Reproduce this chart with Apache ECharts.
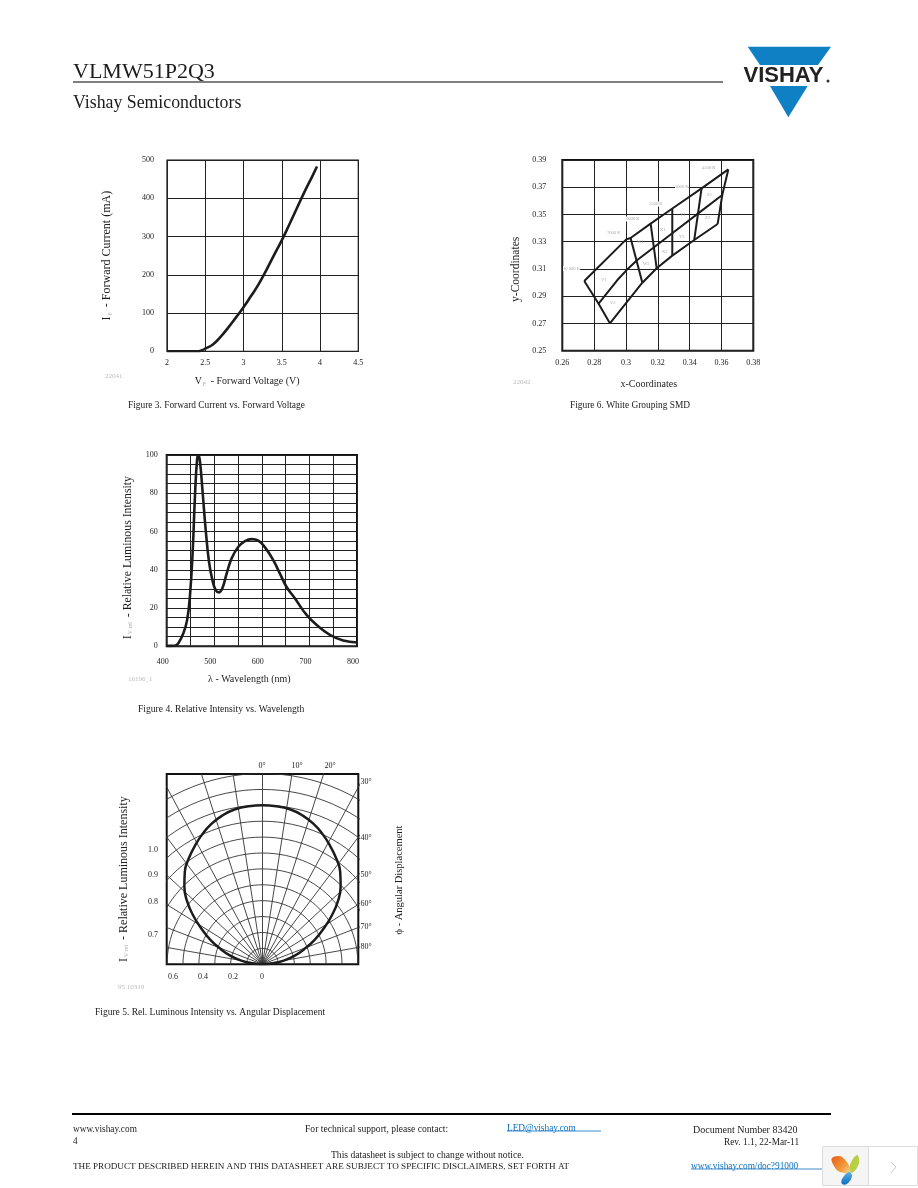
<!DOCTYPE html>
<html><head><meta charset="utf-8">
<style>html,body{margin:0;padding:0;background:#fff}#c{width:918px;height:1188px}</style>
<script src="https://cdn.jsdelivr.net/npm/echarts@6/dist/echarts.min.js"></script>
</head><body><div id="c"></div>
<script>
// Figure 3
const fig3Voltage = [2,2.2,2.4,2.46,2.5,2.6,2.7,2.8,2.9,3.0,3.1,3.2,3.3,3.4,3.5,3.6,3.7,3.8,3.9,3.96];
const fig3Current = [0,0,0,3,7,18,38,62,88,115,145,176,213,252,290,332,375,418,458,483];
const fig3XTicks = [2,2.5,3,3.5,4,4.5];
const fig3YTicks = [0,100,200,300,400,500];
// Figure 4
const fig4Wave = [400,417.5,424.5,435,443,449,454.6,459.5,464,467,470,475.7,482,489,496,503,510,517,526,536.6,550.6,564.6,578.6,592.6,606.6,624,638,652,669.7,694,719,743,771,800];
const fig4Intensity = [0.2,0.3,1.6,6.8,13.8,26.8,49.5,79,98,99.7,96.5,80,60.8,44,34.7,29.4,28.2,30.3,38,46,52,55,56,55.2,51.7,45,38,31,25,16.4,10.3,6,3,2];
// Figure 6
const fig6XTicks = [0.26,0.28,0.3,0.32,0.34,0.36,0.38];
const fig6YTicks = [0.25,0.27,0.29,0.31,0.33,0.35,0.37,0.39];
const fig6Upper = [[0.2738,0.3012],[0.3002,0.3317],[0.3029,0.3327],[0.3155,0.3433],[0.3287,0.354],[0.3475,0.3692],[0.3643,0.3831]];
const fig6Middle = [[0.2828,0.2845],[0.2946,0.3019],[0.3004,0.3092],[0.3071,0.3166],[0.3172,0.3256],[0.3291,0.3362],[0.3454,0.3508],[0.3605,0.3643]];
const fig6Lower = [[0.2899,0.2701],[0.3103,0.2999],[0.3193,0.3105],[0.3291,0.3198],[0.3429,0.3313],[0.3576,0.343]];
const fig6LeftEdge = [[0.2738,0.3012],[0.2828,0.2845],[0.2899,0.2701]];
const fig6RightEdge = [[0.3643,0.3831],[0.3605,0.3643],[0.3576,0.343]];
const fig6Dividers = [
  [[0.3029,0.3327],[0.3103,0.2999]],
  [[0.3155,0.3433],[0.3193,0.3105]],
  [[0.3291,0.354],[0.3291,0.3198]],
  [[0.3475,0.3692],[0.3429,0.3313]]
];
// Figure 5: relative intensity against angle
const fig5Angles = [-90,-85,-80,-75,-70,-65,-60,-55,-50,-45,-40,-35,-30,-25,-20,-15,-10,-5,0,5,10,15,20,25,30,35,40,45,50,55,60,65,70,75,80,85,90];
const fig5Rel = [0,0.07,0.14,0.21,0.28,0.36,0.44,0.53,0.62,0.695,0.76,0.81,0.855,0.9,0.94,0.97,0.99,0.998,1.0,0.998,0.99,0.97,0.94,0.9,0.855,0.81,0.76,0.695,0.62,0.53,0.44,0.36,0.28,0.21,0.14,0.07,0];
const fig5Radii = [0.1,0.2,0.3,0.4,0.5,0.6,0.7,0.8,0.9,1.0,1.1,1.2];
const fig5SpokeAngles = [-80,-69,-58,-47,-37,-28.4,-17.8,-8.8,0,8.8,17.8,28.4,37,47,58,69,80];

const serif = '"Liberation Serif", serif';
const ink = '#1c1c1c';
const G = {
  f3:{left:167,top:160,width:191.3,height:191.3},
  f6:{left:562.3,top:160,width:191,height:190.7},
  f4:{left:166.7,top:455,width:190.3,height:191.3},
  f5:{left:166.7,top:774,width:191.6,height:190.3}
};
const gridOpt = (g,bw)=>Object.assign({show:true,borderColor:'#111',borderWidth:bw,backgroundColor:'#fff',containLabel:false},g);
const splitL = {show:true,lineStyle:{color:'#222',width:1}};
const rich = {sub:{fontSize:6,fontFamily:serif,color:'#aaa',verticalAlign:'bottom',padding:[5,2,0,1]}};
const nameSt = (size,pad)=>({fontFamily:serif,fontSize:size,color:ink,padding:pad,rich:rich});
function baseAxis(extra){
  return Object.assign({type:'value',axisLine:{show:false},axisTick:{show:false},splitLine:splitL,nameLocation:'middle'},extra);
}
const lab = (margin,extra)=>Object.assign({fontFamily:serif,fontSize:8,color:ink,margin:margin},extra||{});

const xAxes = [
  baseAxis({gridIndex:0,min:2,max:4.5,interval:0.5,axisLabel:lab(8),name:'V{sub|F} - Forward Voltage (V)',nameGap:25,nameTextStyle:nameSt(10,[0,31,0,0])}),
  baseAxis({gridIndex:1,min:0.26,max:0.38,axisTick:{show:false,customValues:fig6XTicks},axisLabel:lab(8,{customValues:fig6XTicks,formatter:v=>String(v)}),name:'x-Coordinates',nameGap:29,nameTextStyle:nameSt(10,[0,18,0,0])}),
  baseAxis({gridIndex:2,min:400,max:800,interval:50,axisLabel:lab(12,{padding:[0,8,0,0],formatter:v=>v%100===0?String(v):''}),name:'λ - Wavelength (nm)',nameGap:28,nameTextStyle:nameSt(10,[0,25,0,0])}),
  baseAxis({gridIndex:3,min:-0.6025,max:0.6025,splitLine:{show:false},axisLabel:{show:false}})
];
const yAxes = [
  baseAxis({gridIndex:0,min:0,max:500,interval:100,axisLabel:lab(13),name:'I{sub|F} - Forward Current (mA)',nameGap:54,nameTextStyle:nameSt(12,[0,0,0,0])}),
  baseAxis({gridIndex:1,min:0.25,max:0.39,axisTick:{show:false,customValues:fig6YTicks},axisLabel:lab(16,{customValues:fig6YTicks,formatter:v=>String(v)}),name:'y-Coordinates',nameGap:40,nameTextStyle:nameSt(11.5,[0,28,0,0])}),
  baseAxis({gridIndex:2,min:0,max:100,interval:5,axisLabel:lab(9,{formatter:v=>v%20===0?String(v):''}),name:'I{sub|V rel} - Relative Luminous Intensity',nameGap:33,nameTextStyle:nameSt(11.8,[0,14,0,0])}),
  baseAxis({gridIndex:3,min:0,max:1.197,splitLine:{show:false},axisLabel:{show:false},name:'I{sub|V rel} - Relative Luminous Intensity',nameGap:37,nameTextStyle:nameSt(12,[0,20,0,0])})
];

const line = (idx,data,w,smooth,color)=>({type:'line',xAxisIndex:idx,yAxisIndex:idx,data:data,symbol:'none',smooth:smooth||false,silent:true,animation:false,lineStyle:{color:color||ink,width:w},z:5});
const zip = (a,b)=>a.map((v,i)=>[v,b[i]]);
const series = [];
// fig 3
series.push(line(0,zip(fig3Voltage,fig3Current),2.6,0.5));
// fig 6
[fig6Upper,fig6Middle,fig6Lower,fig6LeftEdge,fig6RightEdge].concat(fig6Dividers).forEach(s=>series.push(line(1,s,2)));
// fig 4
series.push(line(2,zip(fig4Wave,fig4Intensity),2.6,0.45));
// fig 5 polar guide lines, clipped by the grid
fig5Radii.forEach(r=>{
  const pts=[];
  for(let a=-90;a<=90;a+=3){const t=a*Math.PI/180;pts.push([r*Math.sin(t),r*Math.cos(t)]);}
  series.push(line(3,pts,0.9,false,'#333'));
});
fig5SpokeAngles.forEach(a=>{
  const t=a*Math.PI/180;
  series.push(line(3,[[0,0],[1.6*Math.sin(t),1.6*Math.cos(t)]],0.9,false,'#333'));
});
series.push(line(3,fig5Angles.map((a,i)=>[fig5Rel[i]*Math.sin(a*Math.PI/180),fig5Rel[i]*Math.cos(a*Math.PI/180)]),2.5,0.5));

// page text
const T = (text,x,y,size,o)=>Object.assign({type:'text',x:x,y:y,z:20,style:Object.assign({text:text,font:size+'px '+serif,fill:ink,textAlign:'left',textVerticalAlign:'middle'},o||{})});
const H = (x1,y1,x2,y2,w,c)=>({type:'line',z:10,shape:{x1,y1,x2,y2},style:{stroke:c||'#000',lineWidth:w}});
const pale = '#bbb';
const elems = [
  T('VLMW51P2Q3',73,72.5,22),
  H(73,82,723,82,1.2),
  T('Vishay Semiconductors',73,103.5,17.8),
  // logo
  {type:'polygon',z:10,shape:{points:[[747.7,46.7],[831,46.7],[818,65],[760,65]]},style:{fill:'#0f80c3'}},
  {type:'polygon',z:10,shape:{points:[[770,86],[807.7,86],[788.3,117.3]]},style:{fill:'#0f80c3'}},
  {type:'text',x:743.5,y:75.5,z:11,style:{text:'VISHAY',font:'bold 22px "Liberation Sans", sans-serif',fill:'#222',textAlign:'left',textVerticalAlign:'middle'}},
  {type:'circle',z:11,shape:{cx:828,cy:81,r:1.5},style:{fill:'#333'}},
  // captions
  T('Figure 3. Forward Current vs. Forward Voltage',128,406,9.4),
  T('Figure 6. White Grouping SMD',570,406,9.4),
  T('Figure 4. Relative Intensity vs. Wavelength',138,709,9.6),
  T('Figure 5. Rel. Luminous Intensity vs. Angular Displacement',95,1012,9.5),
  // drawing numbers
  T('22041',105,376.5,7,{fill:pale}),
  T('22042',513,382,7,{fill:pale}),
  T('16196_1',128,679,7,{fill:pale}),
  T('95 10319',118,987,7,{fill:pale}),
  // footer
  H(72,1114,831,1114,2),
  T('www.vishay.com',73,1130,9.3),
  T('For technical support, please contact:',305,1129,9.6),
  T('LED@vishay.com',507,1129,9.3,{fill:'#0a6fc0'}),
  H(507,1131,601,1131,0.8,'#0a6fc0'),
  T('Document Number 83420',693,1130,10),
  T('4',73,1142,9.3),
  T('Rev. 1.1, 22-Mar-11',724,1143,9.3),
  T('This datasheet is subject to change without notice.',331,1155,9.6),
  T('THE PRODUCT DESCRIBED HEREIN AND THIS DATASHEET ARE SUBJECT TO SPECIFIC DISCLAIMERS, SET FORTH AT',73,1167,9.15),
  T('www.vishay.com/doc?91000',691,1167,9.3,{fill:'#0a6fc0'}),
  H(691,1169,822,1169,0.8,'#0a6fc0'),
  // corner widget
  {type:'rect',z:10,shape:{x:822.5,y:1146.5,width:46,height:39},style:{fill:'#f5f5f5',stroke:'#ddd',lineWidth:1}},
  {type:'rect',z:10,shape:{x:868.5,y:1146.5,width:49,height:39},style:{fill:'#fff',stroke:'#ddd',lineWidth:1}},
  {type:'polyline',z:11,shape:{points:[[891,1162],[896,1167],[891,1173]]},style:{stroke:'#c8c8c8',fill:'none',lineWidth:1}},
  {type:'polygon',z:11,shape:{points:[[832,1158],[842,1157],[851,1172],[840,1172],[834,1166]],smooth:0.4},style:{fill:{type:'linear',x:0,y:0,x2:1,y2:1,colorStops:[{offset:0,color:'#e85a17'},{offset:0.6,color:'#f29a3a'},{offset:1,color:'#f6dc9a'}]}}},
  {type:'polygon',z:11,shape:{points:[[857,1155],[859,1163],[852,1173],[850,1165]],smooth:0.4},style:{fill:'#b7cf45'}},
  {type:'polygon',z:11,shape:{points:[[849,1172],[852,1176],[847,1184],[842,1184],[842,1179]],smooth:0.4},style:{fill:{type:'linear',x:0,y:0,x2:0,y2:1,colorStops:[{offset:0,color:'#5bb0e0'},{offset:1,color:'#0f6cc0'}]}}}
];
// fig 6 pale labels: the long ones have a white backing that breaks the grid lines
const fig6LongLabels = [['10 000 K',563,268.5],['7000 K',607,233],['6000 K',626,219],['5500 K',649,204],['5000 K',675,187],['4500 K',702,168]];
const fig6ShortLabels = [['V1',601,280],['V2',610,303],['W1',637,242],['W2',643,264],['X1',660,230],['X2',662,252],['Y1',680,215],['Y2',679,237],['Z1',707,195],['Z2',705,218]];
fig6LongLabels.forEach(l=>elems.push(T(l[0],l[1],l[2],4.6,{fill:'#aaa',backgroundColor:'#fff'})));
fig6ShortLabels.forEach(l=>elems.push(T(l[0],l[1],l[2],4.6,{fill:'#aaa'})));
// fig 5 labels
const fig5TopLabels = [['0°',262,766],['10°',297,766],['20°',330,766]];
const fig5RightLabels = [['30°',366,782],['40°',366,838],['50°',366,875],['60°',366,904],['70°',366,927],['80°',366,947]];
const fig5LeftLabels = [['1.0',153,850],['0.9',153,875],['0.8',153,902],['0.7',153,935]];
const fig5BottomLabels = [['0.6',173,977],['0.4',203,977],['0.2',233,977],['0',262,977]];
[...fig5TopLabels,...fig5RightLabels,...fig5LeftLabels,...fig5BottomLabels].forEach(l=>elems.push(T(l[0],l[1],l[2],8,{textAlign:'center'})));
// angular title, rotated
elems.push({type:'text',x:399,y:880,rotation:Math.PI/2,z:20,style:{text:'ϕ - Angular Displacement',font:'10.5px '+serif,fill:ink,textAlign:'center',textVerticalAlign:'middle'}});

const chart = echarts.init(document.getElementById('c'),null,{renderer:'canvas'});
chart.setOption({
  backgroundColor:'#fff',animation:false,
  grid:[gridOpt(G.f3,1.2),gridOpt(G.f6,2),gridOpt(G.f4,2),gridOpt(G.f5,2)],
  xAxis:xAxes,yAxis:yAxes,series:series,graphic:{elements:elems}
});
</script></body></html>
